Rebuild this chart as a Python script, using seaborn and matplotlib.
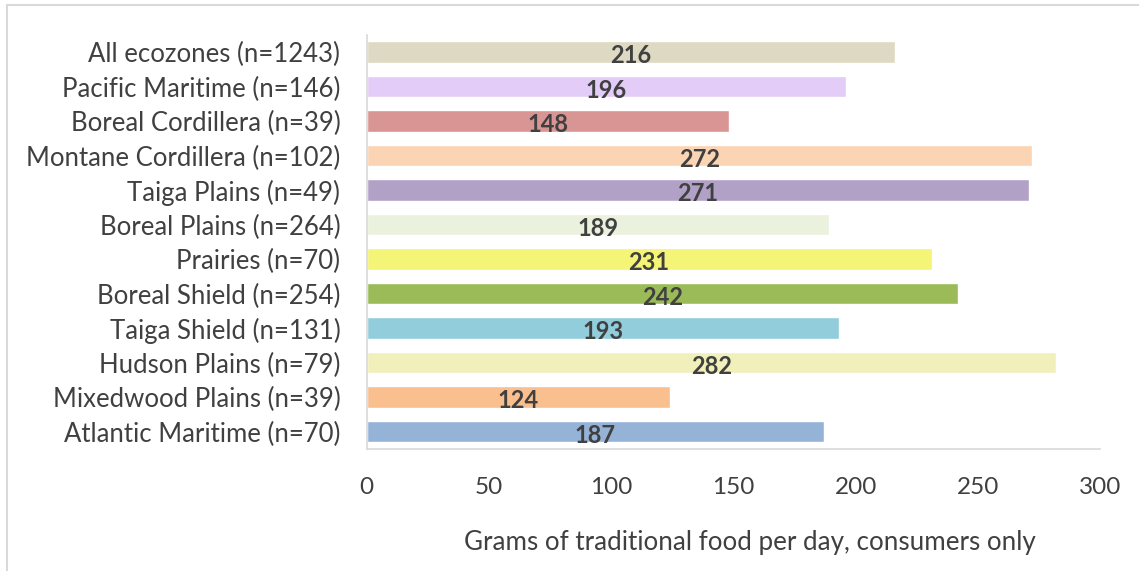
import matplotlib
matplotlib.use('Agg')
import matplotlib.pyplot as plt
import seaborn as sns
import pandas as pd

#%% datos
ecozonas = ['All ecozones (n=1243)', 'Pacific Maritime (n=146)', 'Boreal Cordillera (n=39)',
            'Montane Cordillera (n=102)', 'Taiga Plains (n=49)', 'Boreal Plains (n=264)',
            'Prairies (n=70)', 'Boreal Shield (n=254)', 'Taiga Shield (n=131)',
            'Hudson Plains (n=79)', 'Mixedwood Plains (n=39)', 'Atlantic Maritime (n=70)']
gramos = [216, 196, 148, 272, 271, 189, 231, 242, 193, 282, 124, 187]
colores = ['#DDD9C3', '#E4CCF9', '#D99594', '#FBD4B4', '#B2A1C7', '#EAF1DD',
           '#F4F476', '#9BBB59', '#92CDDC', '#F2F0BA', '#F9BF8F', '#95B3D7']
xticks = [0, 50, 100, 150, 200, 250, 300]

df = pd.DataFrame({'eco': ecozonas, 'g': gramos})

#%% estilo
sns.set_style('white')
plt.rcParams['font.family'] = ['Lato', 'DejaVu Sans']
gris = '#404040'

fig = plt.figure(figsize=(11.39, 5.71), dpi=100)
ax = fig.add_axes([0.322, 0.214, 0.644, 0.725])

sns.barplot(data=df, x='g', y='eco', hue='eco', palette=colores, legend=False,
            width=0.62, saturation=1, ax=ax)

#%% etiquetas de valores
for i, v in enumerate(gramos):
    ax.text(v / 2, i + 0.1, str(v), ha='center', va='center', fontsize=17,
            fontweight='bold', color=gris)

ax.set_xlim(0, 300)
ax.set_ylim(len(gramos) - 0.5, -0.5)
ax.set_xticks(xticks)
ax.set_xticklabels([str(t) for t in xticks], fontsize=17.5, color=gris)
ax.tick_params(axis='x', length=0, pad=20)
ax.tick_params(axis='y', length=0, pad=19, labelsize=18.5, labelcolor=gris)
ax.set_ylabel('')
ax.set_xlabel('Grams of traditional food per day, consumers only', fontsize=18.7,
              color=gris)
ax.xaxis.label.set_va('center')
ax.xaxis.set_label_coords(0.522, -0.227)

for s in ['top', 'right']:
    ax.spines[s].set_visible(False)
for s in ['left', 'bottom']:
    ax.spines[s].set_color('#D9D9D9')
    ax.spines[s].set_linewidth(1.2)

# marco exterior (solo arriba e izquierda)
fig.add_artist(plt.Line2D([0.0065, 0.0065], [0, 0.991], transform=fig.transFigure,
                          color='#D9D9D9', linewidth=1.5))
fig.add_artist(plt.Line2D([0.0065, 1], [0.991, 0.991], transform=fig.transFigure,
                          color='#D9D9D9', linewidth=1.5))

fig.savefig('out.png', dpi=100)
